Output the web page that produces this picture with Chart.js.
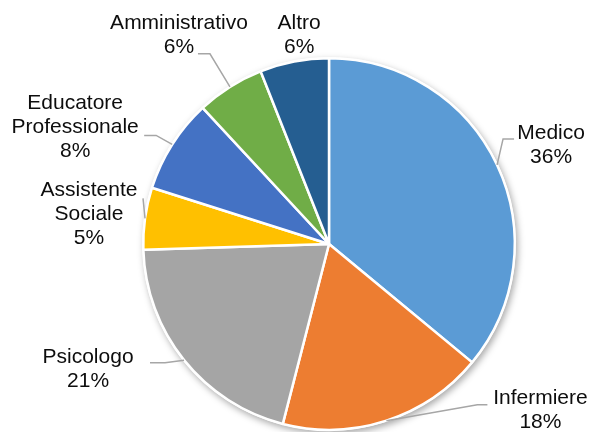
<!DOCTYPE html>
<html>
<head>
<meta charset="utf-8">
<script src="https://cdn.jsdelivr.net/npm/chart.js@4/dist/chart.umd.min.js"></script>
<style>
  html, body { margin: 0; padding: 0; background: #FFFFFF; }
  #wrap { width: 592px; height: 432px; }
</style>
</head>
<body>
<div id="wrap"><canvas id="torta"></canvas></div>
<script>
// Figure professionali - dati
const categorie = ["Medico", "Infermiere", "Psicologo", "Assistente Sociale", "Educatore Professionale", "Amministrativo", "Altro"];
const etichette = [["Medico"], ["Infermiere"], ["Psicologo"], ["Assistente", "Sociale"], ["Educatore", "Professionale"], ["Amministrativo"], ["Altro"]];
const percentuali = [36, 18, 20.5, 5.4, 8.2, 5.9, 6];
const colori = ["#5B9BD5", "#ED7D31", "#A5A5A5", "#FFC000", "#4472C4", "#70AD47", "#255E91"];

// posizione delle etichette rispetto al bordo della fetta (offset testo + linea guida)
const posEtichette = [
  { t: [54, -20], linea: [[6, -26], [17, -26]] },
  { t: [154, -10], linea: [[91, -16], [101, -16]] },
  { t: [-96, 9], linea: [[-19, 2.5], [-34, 2.5]] },
  { t: [-56, -4], linea: [[-2, -20]] },
  { t: [-97, -17], linea: [[-16, -9], [-28, -9]] },
  { t: [-51, -52], linea: [[-20, -33], [-32, -33]] },
  { t: [5, -26], linea: [] }
];

const ombra = {
  id: "ombra",
  beforeDatasetsDraw(chart) {
    const arc = chart.getDatasetMeta(0).data[0];
    if (!arc) return;
    const ctx = chart.ctx;
    ctx.save();
    ctx.shadowColor = "rgba(0,0,0,0.35)";
    ctx.shadowBlur = 7;
    ctx.shadowOffsetX = 2;
    ctx.shadowOffsetY = 3;
    ctx.fillStyle = "#FFFFFF";
    ctx.beginPath();
    ctx.arc(arc.x, arc.y, arc.outerRadius + 1, 0, Math.PI * 2);
    ctx.fill();
    ctx.restore();
  }
};

const etichettePlugin = {
  id: "etichette",
  afterDatasetsDraw(chart) {
    const ctx = chart.ctx;
    const meta = chart.getDatasetMeta(0);
    ctx.save();
    ctx.font = "21px 'Liberation Sans', Arial, sans-serif";
    ctx.textAlign = "center";
    ctx.textBaseline = "middle";
    meta.data.forEach((arc, i) => {
      const mid = (arc.startAngle + arc.endAngle) / 2;
      const ax = arc.x + Math.cos(mid) * arc.outerRadius;
      const ay = arc.y + Math.sin(mid) * arc.outerRadius;
      const p = posEtichette[i];

      if (p.linea.length) {
        ctx.strokeStyle = "#A6A6A6";
        ctx.lineWidth = 1.5;
        ctx.beginPath();
        ctx.moveTo(ax, ay);
        p.linea.forEach(pt => ctx.lineTo(ax + pt[0], ay + pt[1]));
        ctx.stroke();
      }

      const righe = etichette[i].concat([Math.round(percentuali[i]) + "%"]);
      const lh = 24;
      const cx = ax + p.t[0];
      const cy = ay + p.t[1] - (righe.length - 1) * lh / 2;
      ctx.fillStyle = "#0D0D0D";
      righe.forEach((r, k) => ctx.fillText(r, cx, cy + k * lh));
    });
    ctx.restore();
  }
};

new Chart(document.getElementById("torta"), {
  type: "pie",
  data: {
    labels: categorie,
    datasets: [
      {
        data: percentuali,
        backgroundColor: colori,
        borderColor: "#FFFFFF",
        borderWidth: 2.5
      }
    ]
  },
  options: {
    responsive: true,
    maintainAspectRatio: false,
    animation: false,
    layout: {
      padding: { top: 57, bottom: 1, left: 80, right: 14 }
    },
    plugins: {
      legend: { display: false },
      tooltip: { enabled: false }
    }
  },
  plugins: [ombra, etichettePlugin]
});
</script>
</body>
</html>
